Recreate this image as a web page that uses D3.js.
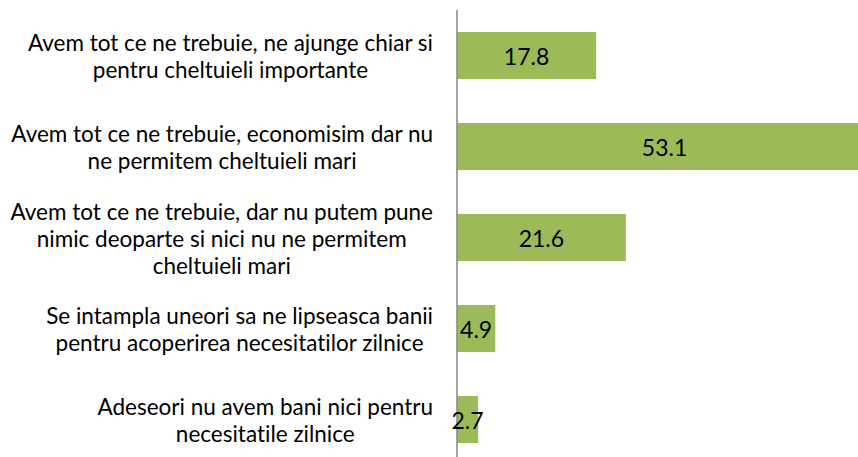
<!DOCTYPE html>
<html>
<head>
<meta charset="utf-8">
<script src="https://cdn.jsdelivr.net/npm/d3@7"></script>
<style>
  html, body { margin: 0; padding: 0; background: #fff; }
  svg { display: block; font-family: Lato, "Open Sans", sans-serif; font-variant-ligatures: none; }
</style>
</head>
<body>
<svg id="chart" width="858" height="457"></svg>
<script>
// category labels, already wrapped the way the original shows them
const categories = ["c1", "c2", "c3", "c4", "c5"];
const labelLines = [
  ["Avem tot ce ne trebuie, ne ajunge chiar si", "pentru cheltuieli importante"],
  ["Avem tot ce ne trebuie, economisim dar nu", "ne permitem cheltuieli mari"],
  ["Avem tot ce ne trebuie, dar nu putem pune", "nimic deoparte si nici nu ne permitem", "cheltuieli mari"],
  ["Se intampla uneori sa ne lipseasca banii", "pentru acoperirea necesitatilor zilnice"],
  ["Adeseori nu avem bani nici pentru", "necesitatile zilnice"]
];
const values = [17.8, 53.1, 21.6, 4.9, 2.7];
const xDomain = [0, 60];

(function () {
  const svg = d3.select('#chart');
  const axisX = 457;
  const labelRight = 433;
  const lineH = 27;

  const x = d3.scaleLinear().domain(xDomain).range([axisX, axisX + 469]);
  const y = d3.scaleBand().domain(categories).range([10, 465])
    .paddingInner(0.484).paddingOuter(0.242);

  // bars (the big one runs off the right edge like in the original)
  svg.append('g').selectAll('rect')
    .data(values)
    .join('rect')
    .attr('x', x(0))
    .attr('y', (d, i) => y(categories[i]))
    .attr('width', d => x(d) - x(0))
    .attr('height', y.bandwidth())
    .attr('fill', '#9bbb59');

  // vertical category axis line
  svg.append('line')
    .attr('x1', axisX).attr('x2', axisX)
    .attr('y1', y.range()[0]).attr('y2', y.range()[1])
    .attr('stroke', '#868686').attr('stroke-width', 1.5);

  // value labels centred in the bars
  svg.append('g').selectAll('text')
    .data(values)
    .join('text')
    .attr('x', d => (x(0) + x(d)) / 2)
    .attr('y', (d, i) => y(categories[i]) + y.bandwidth() / 2)
    .attr('text-anchor', 'middle')
    .attr('dominant-baseline', 'central')
    .attr('font-size', 23)
    .attr('fill', '#000')
    .text(d => d3.format('.1f')(d));

  // category labels: block right-aligned to the axis, lines centred in the block
  const lg = svg.append('g').attr('font-size', 22.5).attr('fill', '#000');
  labelLines.forEach((lines, i) => {
    const cy = y(categories[i]) + y.bandwidth() / 2;
    const t = lg.append('text').attr('text-anchor', 'middle').attr('dominant-baseline', 'central');
    const spans = lines.map((l, j) => t.append('tspan')
      .attr('y', cy + (j - (lines.length - 1) / 2) * lineH)
      .text(l));
    const w = d3.max(spans, s => s.node().getComputedTextLength());
    spans.forEach(s => s.attr('x', labelRight - w / 2));
  });
})();
</script>
</body>
</html>
